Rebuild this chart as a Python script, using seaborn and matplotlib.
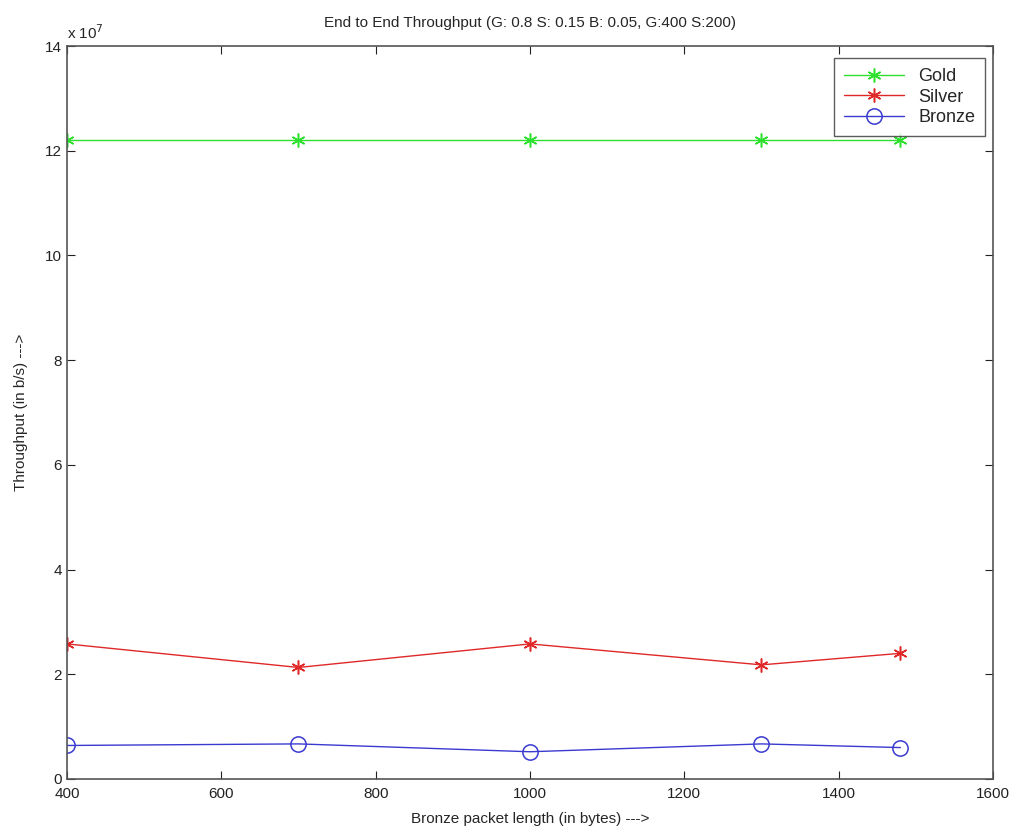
import pandas as pd
import matplotlib
matplotlib.use("Agg")
import matplotlib.pyplot as plt
import seaborn as sns

# Bronze packet length (bytes)
packet_len = [400, 700, 1000, 1300, 1480]

# Throughput in units of 1e7 b/s
gold = [12.2, 12.2, 12.2, 12.2, 12.2]
silver = [2.58, 2.13, 2.58, 2.18, 2.40]
bronze = [0.64, 0.67, 0.52, 0.67, 0.60]

series = ["Gold", "Silver", "Bronze"]
colors = {"Gold": "#2ee02e", "Silver": "#e02828", "Bronze": "#3a3ad0"}
# MATLAB-like asterisk and open circle
markers = {"Gold": (6, 2, 0), "Silver": (6, 2, 0), "Bronze": "o"}

df = pd.DataFrame({
    "length": packet_len * 3,
    "throughput": gold + silver + bronze,
    "class": ["Gold"] * 5 + ["Silver"] * 5 + ["Bronze"] * 5,
})

sns.set_style("ticks")
plt.rcParams['font.family'] = ['Liberation Sans', 'DejaVu Sans']
plt.rcParams['xtick.direction'] = 'in'
plt.rcParams['ytick.direction'] = 'in'

fig = plt.figure(figsize=(10.18, 8.31), dpi=100)
ax = fig.add_axes([0.0658, 0.0626, 0.9096, 0.882])

for name in series:
    sub = df[df["class"] == name]
    sns.lineplot(data=sub, x="length", y="throughput", ax=ax, color=colors[name],
                 marker=markers[name], markersize=11 if name == "Bronze" else 10,
                 markerfacecolor="none", markeredgecolor=colors[name],
                 markeredgewidth=1.1, linewidth=1.0, label=name)

ax.set_xlim(400, 1600)
ax.set_ylim(0, 14)
ax.set_xticks(range(400, 1601, 200))
ax.set_yticks(range(0, 15, 2))
ax.tick_params(top=True, right=True, labelsize=11, length=6, width=0.8, colors="#222222")
ax.tick_params(axis="x", pad=6)
for s in ax.spines.values():
    s.set_visible(True)
    s.set_color("#555555")
    s.set_linewidth(1.2)

ax.set_xlabel("Bronze packet length (in bytes) --->", fontsize=11, labelpad=8)
ax.set_ylabel("Throughput (in b/s) --->", fontsize=11, labelpad=12)
ax.set_title("End to End Throughput (G: 0.8 S: 0.15 B: 0.05, G:400 S:200)", fontsize=11, pad=14)
ax.text(0.0, 1.005, r"x 10$^7$", transform=ax.transAxes, fontsize=11, va="bottom", ha="left")

leg = ax.legend(loc="upper right", fontsize=13, frameon=True, fancybox=False,
                edgecolor="#333333", handlelength=3.3, borderpad=0.55,
                labelspacing=0.2, borderaxespad=0, bbox_to_anchor=(0.9914, 0.9836))
leg.get_frame().set_linewidth(1.0)

fig.savefig("out.png", dpi=100)
